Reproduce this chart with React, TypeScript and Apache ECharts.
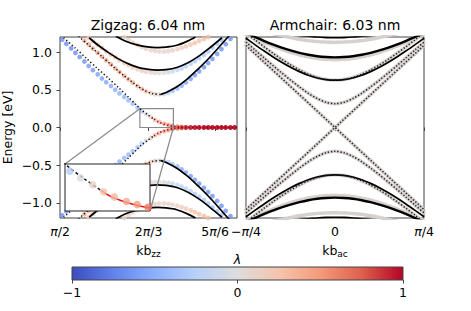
import React, { useEffect, useRef } from "react";
import * as echarts from "echarts";

// ---------- Zigzag panel (k in units of pi, energy in eV) ----------
const ZZ_K = [0.504, 0.512, 0.521, 0.529, 0.537, 0.546, 0.554, 0.562, 0.571, 0.579, 0.587, 0.596, 0.604, 0.612, 0.621, 0.629, 0.637, 0.646, 0.654, 0.662, 0.671, 0.679, 0.687, 0.696, 0.704, 0.712, 0.721, 0.729, 0.737, 0.746, 0.754, 0.762, 0.771, 0.779, 0.787, 0.796, 0.804, 0.812, 0.821, 0.829];
// edge-state band (conduction side), colour = lambda
const ZZ_A_E = [1.165, 1.11, 1.05, 0.99, 0.935, 0.875, 0.815, 0.76, 0.705, 0.65, 0.6, 0.55, 0.5, 0.452, 0.405, 0.36, 0.315, 0.262, 0.212, 0.176, 0.14, 0.102, 0.075, 0.05, 0.034, 0.02, 0.01, 0.004, 0.001, 0, 0, 0, 0, 0, 0, 0, 0, 0, 0, 0];
const ZZ_A_L = [-0.7, -0.7, -0.7, -0.7, -0.68, -0.66, -0.64, -0.62, -0.6, -0.58, -0.56, -0.54, -0.52, -0.5, -0.47, -0.44, -0.4, -0.35, -0.27, -0.03, 0.12, 0.25, 0.33, 0.4, 0.48, 0.62, 0.72, 0.8, 0.86, 0.9, 0.92, 0.94, 0.96, 0.96, 0.96, 0.96, 0.96, 0.96, 0.96, 0.96];
const ZZ_B_E = [null, null, null, null, 1.205, 1.15, 1.1, 1.045, 0.99, 0.94, 0.89, 0.835, 0.785, 0.735, 0.685, 0.64, 0.595, 0.55, 0.512, 0.48, 0.457, 0.442, 0.437, 0.443, 0.46, 0.485, 0.517, 0.555, 0.597, 0.645, 0.695, 0.745, 0.8, 0.855, 0.91, 0.975, 1.04, 1.105, 1.175, null];
const ZZ_B_L = [0.42, 0.42, 0.42, 0.42, 0.42, 0.42, 0.42, 0.42, 0.42, 0.42, 0.42, 0.42, 0.42, 0.42, 0.42, 0.4, 0.38, 0.36, 0.33, 0.28, 0.22, 0.12, 0.02, -0.12, -0.25, -0.36, -0.45, -0.52, -0.56, -0.6, -0.62, -0.64, -0.66, -0.66, -0.66, -0.66, -0.66, -0.66, -0.66, -0.66];
const ZZ_C_E = [null, null, null, null, null, 1.235, 1.19, 1.145, 1.095, 1.055, 1.01, 0.97, 0.93, 0.893, 0.857, 0.825, 0.797, 0.772, 0.753, 0.739, 0.729, 0.724, 0.723, 0.726, 0.733, 0.745, 0.762, 0.785, 0.812, 0.845, 0.88, 0.92, 0.963, 1.01, 1.06, 1.11, 1.16, 1.21, null, null];
const ZZ_C_L = [0.22, 0.22, 0.22, 0.22, 0.22, 0.22, 0.22, 0.22, 0.22, 0.22, 0.22, 0.22, 0.22, 0.22, 0.22, 0.2, 0.18, 0.16, 0.14, 0.11, 0.08, 0.05, 0.02, -0.03, -0.08, -0.12, -0.16, -0.2, -0.23, -0.26, -0.28, -0.3, -0.32, -0.34, -0.34, -0.34, -0.34, -0.34, -0.34, -0.34];
const ZZ_D_E = [null, null, null, null, null, null, null, null, null, null, null, null, null, 1.245, 1.2, 1.16, 1.125, 1.095, 1.068, 1.045, 1.027, 1.015, 1.008, 1.007, 1.012, 1.022, 1.037, 1.055, 1.075, 1.098, 1.122, 1.148, 1.175, 1.2, 1.228, null, null, null, null, null];
const ZZ_D_L = [0.15, 0.15, 0.15, 0.15, 0.15, 0.15, 0.15, 0.15, 0.15, 0.15, 0.15, 0.15, 0.15, 0.15, 0.15, 0.15, 0.14, 0.13, 0.12, 0.12, 0.12, 0.11, 0.1, 0.1, 0.1, 0.11, 0.13, 0.16, 0.2, 0.23, 0.26, 0.28, 0.3, 0.3, 0.3, 0.3, 0.3, 0.3, 0.3, 0.3];
// small-marker curves and solid model lines
const ZZ_A_LINE_K = [0.507, 0.53, 0.55, 0.57, 0.59, 0.61, 0.63, 0.645, 0.652, 0.665, 0.677];
const ZZ_A_LINE_E = [1.19, 1.045, 0.915, 0.785, 0.66, 0.53, 0.395, 0.29, 0.24, 0.17, 0.11];
const ZZ_EDGE_K = [0.677, 0.685, 0.695, 0.705, 0.713, 0.725, 0.74, 0.76, 0.8333];
const ZZ_EDGE_E = [0.11, 0.075, 0.048, 0.028, 0.016, 0.006, 0.001, 0, 0];
const ZZ_B_DOT_K = [0.535, 0.56, 0.58, 0.6, 0.62, 0.64, 0.66, 0.675, 0.69];
const ZZ_B_DOT_E = [1.21, 1.055, 0.935, 0.81, 0.69, 0.58, 0.488, 0.448, 0.438];
const ZZ_B_LINE_K = [0.69, 0.7, 0.72, 0.74, 0.76, 0.78, 0.8, 0.815, 0.822];
const ZZ_B_LINE_E = [0.44, 0.465, 0.54, 0.645, 0.775, 0.915, 1.07, 1.19, 1.24];
const ZZ_C_LINE_K = [0.555, 0.57, 0.59, 0.61, 0.63, 0.65, 0.67, 0.683, 0.7, 0.72, 0.74, 0.76, 0.78, 0.805];
const ZZ_C_LINE_E = [1.19, 1.1, 1.0, 0.91, 0.84, 0.79, 0.767, 0.762, 0.767, 0.795, 0.855, 0.94, 1.045, 1.19];
const ZZ_D_LINE_K = [0.605, 0.625, 0.645, 0.665, 0.684, 0.7, 0.72, 0.74, 0.755];
const ZZ_D_LINE_E = [1.21, 1.14, 1.095, 1.068, 1.06, 1.066, 1.09, 1.145, 1.2];
const ZZ_TICKS = [0.5, 0.6667, 0.792];
const ZZ_TICK_LABELS = ["{i|π}/2", "2{i|π}/3", "5{i|π}/6"];
const INSET_X = [0.6504, 0.7135];
const INSET_Y = [0, 0.25];

// ---------- Armchair panel ----------
const AC_K = [-0.25, -0.225, -0.2, -0.175, -0.15, -0.125, -0.1, -0.075, -0.05, -0.025, 0, 0.025, 0.05, 0.075, 0.1, 0.125, 0.15, 0.175, 0.2, 0.225, 0.25];
const AC_DIRAC_K = [-0.25, 0, 0.25];
const AC_DIRAC_E = [1.088, 0, 1.088];
const AC_B1 = [1.133, 1.029, 0.926, 0.824, 0.725, 0.629, 0.538, 0.454, 0.384, 0.334, 0.316, 0.334, 0.384, 0.454, 0.538, 0.629, 0.725, 0.824, 0.926, 1.029, 1.133];
const AC_B2 = [1.254, 1.163, 1.073, 0.987, 0.905, 0.83, 0.764, 0.707, 0.664, 0.637, 0.628, 0.637, 0.664, 0.707, 0.764, 0.83, 0.905, 0.987, 1.073, 1.163, 1.254];
const AC_B2_LINE = [1.183, 1.099, 1.017, 0.939, 0.866, 0.799, 0.741, 0.693, 0.657, 0.635, 0.628, 0.635, 0.657, 0.693, 0.741, 0.799, 0.866, 0.939, 1.017, 1.099, 1.183];
const AC_B3 = [1.238, 1.184, 1.131, 1.082, 1.037, 0.997, 0.963, 0.936, 0.916, 0.904, 0.9, 0.904, 0.916, 0.936, 0.963, 0.997, 1.037, 1.082, 1.131, 1.184, 1.238];
const AC_B3_LINE = [1.25, 1.2, 1.15, 1.103, 1.06, 1.022, 0.99, 0.964, 0.945, 0.934, 0.93, 0.934, 0.945, 0.964, 0.99, 1.022, 1.06, 1.103, 1.15, 1.2, 1.25];
const AC_B4 = [1.4, 1.33, 1.27, 1.245, 1.22, 1.193, 1.17, 1.152, 1.14, 1.133, 1.13, 1.133, 1.14, 1.152, 1.17, 1.193, 1.22, 1.245, 1.27, 1.33, 1.4];
const AC_B4_LINE = [1.5, 1.45, 1.4, 1.33, 1.28, 1.245, 1.22, 1.212, 1.2, 1.193, 1.19, 1.193, 1.2, 1.212, 1.22, 1.245, 1.28, 1.33, 1.4, 1.45, 1.5];
const AC_TICKS = [-0.25, 0, 0.25];
const AC_TICK_LABELS = ["−{i|π}/4", "0", "{i|π}/4"];

const Y_TICKS = [-1, -0.5, 0, 0.5, 1];
const CB_TICK_LABELS = ["−1", "0", "1"];
const COOLWARM = ["#3b4cc0", "#6282ea", "#8db0fe", "#b8d0f9", "#dddddd", "#f5c4ad", "#f49a7b", "#de604d", "#b40426"];

// ---------- layout ----------
const G0 = { left: 59, top: 37, width: 178, height: 181 };
const G1 = { left: 246, top: 37, width: 178, height: 181 };
const GI = { left: 65, top: 164, width: 85, height: 47 };
const GC = { left: 72, top: 267, width: 331, height: 13 };
const FONT = "DejaVu Sans, sans-serif";
const FRAME = "#444";

function hex(h: string) {
  return [1, 3, 5].map((i) => parseInt(h.slice(i, i + 2), 16));
}
function coolwarm(l: number) {
  const n = COOLWARM.length - 1;
  const t = Math.min(1, Math.max(0, (l + 1) / 2)) * n;
  const i = Math.min(Math.floor(t), n - 1);
  const f = t - i;
  const a = hex(COOLWARM[i]);
  const b = hex(COOLWARM[i + 1]);
  const c = a.map((v, j) => Math.round(v + (b[j] - v) * f));
  return `rgb(${c[0]},${c[1]},${c[2]})`;
}

const richPi = {
  i: { fontStyle: "italic", fontFamily: FONT, fontSize: 12.5, color: "#000" },
};

function dotSeries(E: (number | null)[], L: number[], sign: number, g: number, size: number, z: number) {
  const data: any[] = [];
  ZZ_K.forEach((k, i) => {
    const e = E[i];
    if (e === null) return;
    data.push({ value: [k, sign * e], itemStyle: { color: coolwarm(L[i]) } });
  });
  return {
    type: "scatter", xAxisIndex: g, yAxisIndex: g, symbolSize: size, z, clip: true, silent: true, data,
  };
}
function lineSeries(K: number[], E: number[], sign: number, g: number, lineStyle: any, z: number, smooth: any = 0.3) {
  return {
    type: "line", xAxisIndex: g, yAxisIndex: g, symbol: "none", showSymbol: false, clip: true, silent: true,
    smooth, z, lineStyle, data: K.map((k, i) => [k, sign * E[i]]),
  };
}

function buildSeries() {
  const s: any[] = [];
  const smallBlack = { color: "#111", width: 1.5, type: [1.3, 2.3] };
  const smallRed = { color: "#a50021", width: 1.6, type: [1.4, 2.2] };
  const solid = { color: "#000", width: 1.7 };
  for (const sg of [1, -1]) {
    s.push(dotSeries(ZZ_D_E, ZZ_D_L, sg, 0, 4.8, 2));
    s.push(dotSeries(ZZ_C_E, ZZ_C_L, sg, 0, 4.8, 2));
    s.push(dotSeries(ZZ_B_E, ZZ_B_L, sg, 0, 4.8, 2));
    s.push(dotSeries(ZZ_A_E, ZZ_A_L, sg, 0, 4.8, 2));
    s.push(lineSeries(ZZ_B_LINE_K, ZZ_B_LINE_E, sg, 0, solid, 3));
    s.push(lineSeries(ZZ_C_LINE_K, ZZ_C_LINE_E, sg, 0, solid, 3));
    s.push(lineSeries(ZZ_D_LINE_K, ZZ_D_LINE_E, sg, 0, solid, 3));
    s.push(lineSeries(ZZ_A_LINE_K, ZZ_A_LINE_E, sg, 0, smallBlack, 4));
    s.push(lineSeries(ZZ_B_DOT_K, ZZ_B_DOT_E, sg, 0, smallBlack, 4));
    s.push(lineSeries(ZZ_EDGE_K, ZZ_EDGE_E, sg, 0, smallRed, 4));
  }
  // armchair
  const gray = { color: "#d6d0ce", width: 3.8, type: [0.1, 2.6], cap: "round" };
  const acSmall = { color: "#222", width: 1.5, type: [1.3, 1.9] };
  for (const sg of [1, -1]) {
    s.push(lineSeries(AC_DIRAC_K, AC_DIRAC_E, sg, 1, gray, 2, false));
    s.push(lineSeries(AC_K, AC_B1, sg, 1, gray, 2));
    s.push(lineSeries(AC_K, AC_B2, sg, 1, gray, 2));
    s.push(lineSeries(AC_K, AC_B3, sg, 1, gray, 2));
    s.push(lineSeries(AC_K, AC_B4, sg, 1, gray, 2));
    s.push(lineSeries(AC_K, AC_B2_LINE, sg, 1, { color: "#000", width: 1.7 }, 3));
    s.push(lineSeries(AC_K, AC_B3_LINE, sg, 1, { color: "#000", width: 2.4 }, 3));
    s.push(lineSeries(AC_K, AC_B4_LINE, sg, 1, { color: "#000", width: 1.7 }, 3));
    s.push(lineSeries(AC_DIRAC_K, AC_DIRAC_E, sg, 1, acSmall, 4, false));
    s.push(lineSeries(AC_K, AC_B1, sg, 1, acSmall, 4));
    s.push(lineSeries(AC_K, AC_B2, sg, 1, acSmall, 4));
  }
  // inset
  s.push(lineSeries(ZZ_A_LINE_K, ZZ_A_LINE_E, 1, 2, { color: "#111", width: 1.5, type: [3, 2.4] }, 6));
  s.push(lineSeries(ZZ_EDGE_K, ZZ_EDGE_E, 1, 2, { color: "#e8141c", width: 1.5 }, 6));
  s.push(dotSeries(ZZ_A_E, ZZ_A_L, 1, 2, 7.5, 7));
  return s;
}

function yFmt(v: number) {
  return (v < 0 ? "−" : "") + Math.abs(v).toFixed(1);
}
function pick(ticks: number[], labels: string[]) {
  return (v: number) => {
    const i = ticks.findIndex((t) => Math.abs(t - v) < 1e-3);
    return i >= 0 ? labels[i] : "";
  };
}

const tickStyle = { length: 3.5, lineStyle: { color: FRAME, width: 1 } };
const labelBase = { color: "#000", fontFamily: FONT, fontSize: 12.5 };
const nameRich = {
  a: { fontFamily: FONT, fontSize: 12.5, color: "#000" },
  s: { fontFamily: FONT, fontSize: 9, color: "#000", padding: [7, 0, 0, 0] },
};

function buildOption() {
  const gridBase = { show: true, borderColor: FRAME, borderWidth: 1, backgroundColor: "transparent", containLabel: false };
  return {
    animation: false,
    backgroundColor: "#fff",
    grid: [
      { ...gridBase, ...G0 },
      { ...gridBase, ...G1 },
      { ...GI, show: false },
      { ...GC, show: false },
    ],
    xAxis: [
      {
        type: "value", gridIndex: 0, min: 0.5, max: 0.8333,
        axisLine: { show: false }, splitLine: { show: false },
        axisTick: { ...tickStyle, customValues: ZZ_TICKS },
        axisLabel: { ...labelBase, margin: 7, customValues: ZZ_TICKS, formatter: pick(ZZ_TICKS, ZZ_TICK_LABELS), rich: richPi },
        name: "{a|kb}{s|zz}", nameLocation: "middle", nameGap: 24,
        nameTextStyle: { ...labelBase, rich: nameRich },
      },
      {
        type: "value", gridIndex: 1, min: -0.25, max: 0.25, interval: 0.25,
        axisLine: { show: false }, splitLine: { show: false },
        axisTick: { ...tickStyle },
        axisLabel: { ...labelBase, margin: 7, formatter: pick(AC_TICKS, AC_TICK_LABELS), rich: richPi, showMinLabel: true, showMaxLabel: true },
        name: "{a|kb}{s|ac}", nameLocation: "middle", nameGap: 24,
        nameTextStyle: { ...labelBase, rich: nameRich },
      },
      { type: "value", gridIndex: 2, min: INSET_X[0], max: INSET_X[1], show: false },
      {
        type: "value", gridIndex: 3, min: -1, max: 1, interval: 1,
        axisLine: { show: false }, splitLine: { show: false },
        axisTick: { ...tickStyle },
        axisLabel: { ...labelBase, margin: 6, formatter: pick([-1, 0, 1], CB_TICK_LABELS), showMinLabel: true, showMaxLabel: true },
      },
    ],
    yAxis: [
      {
        type: "value", gridIndex: 0, min: -1.2, max: 1.2,
        axisLine: { show: false }, splitLine: { show: false },
        axisTick: { ...tickStyle, customValues: Y_TICKS },
        axisLabel: { ...labelBase, margin: 8, customValues: Y_TICKS, formatter: yFmt },
        name: "Energy [eV]", nameLocation: "middle", nameGap: 46, nameRotate: 90,
        nameTextStyle: { ...labelBase },
      },
      {
        type: "value", gridIndex: 1, min: -1.2, max: 1.2,
        axisLine: { show: false }, splitLine: { show: false },
        axisTick: { show: false }, axisLabel: { show: false },
      },
      { type: "value", gridIndex: 2, min: INSET_Y[0], max: INSET_Y[1], show: false },
      { type: "value", gridIndex: 3, min: 0, max: 1, show: false },
    ],
    series: buildSeries(),
  };
}

export default function App() {
  const ref = useRef<HTMLDivElement | null>(null);
  useEffect(() => {
    if (!ref.current) return;
    const chart = echarts.init(ref.current, null, { renderer: "svg" });
    chart.setOption(buildOption() as any);
    const px = (g: number, x: number, y: number) => chart.convertToPixel({ gridIndex: g } as any, [x, y]) as number[];
    const tl = px(0, INSET_X[0], INSET_Y[1]);
    const br = px(0, INSET_X[1], INSET_Y[0]);
    const itl = px(2, INSET_X[0], INSET_Y[1]);
    const ibr = px(2, INSET_X[1], INSET_Y[0]);
    const grayLine = { stroke: "#8a8a8a", lineWidth: 1.2, fill: "none" };
    const gradient = new echarts.graphic.LinearGradient(0, 0, 1, 0,
      COOLWARM.map((c, i) => ({ offset: i / (COOLWARM.length - 1), color: c })));
    chart.setOption({
      graphic: [
        { type: "rect", z: 4, silent: true, shape: { x: tl[0], y: tl[1], width: br[0] - tl[0], height: br[1] - tl[1] }, style: grayLine },
        { type: "line", z: 4, silent: true, shape: { x1: tl[0], y1: tl[1], x2: itl[0], y2: itl[1] }, style: grayLine },
        { type: "line", z: 4, silent: true, shape: { x1: br[0], y1: br[1], x2: ibr[0], y2: ibr[1] }, style: grayLine },
        { type: "rect", z: 5, silent: true, shape: { x: itl[0], y: itl[1], width: ibr[0] - itl[0], height: ibr[1] - itl[1] }, style: { fill: "#fff", stroke: "#222", lineWidth: 1 } },
        { type: "text", z: 10, x: G0.left + G0.width / 2, y: 24.5, style: { text: "Zigzag: 6.04 nm", font: `14px ${FONT}`, fill: "#000", textAlign: "center", textVerticalAlign: "middle" } },
        { type: "text", z: 10, x: G1.left + G1.width / 2, y: 24.5, style: { text: "Armchair: 6.03 nm", font: `14px ${FONT}`, fill: "#000", textAlign: "center", textVerticalAlign: "middle" } },
        { type: "rect", z: 1, silent: true, shape: { x: GC.left, y: GC.top, width: GC.width, height: GC.height }, style: { fill: gradient, stroke: FRAME, lineWidth: 1 } },
        { type: "text", z: 10, x: GC.left + GC.width / 2, y: GC.top - 8, style: { text: "λ", font: `italic 12.5px ${FONT}`, fill: "#000", textAlign: "center", textVerticalAlign: "middle" } },
      ],
    } as any);
    return () => chart.dispose();
  }, []);
  return <div ref={ref} style={{ position: "fixed", left: 0, top: 0, width: 471, height: 311 }} />;
}
